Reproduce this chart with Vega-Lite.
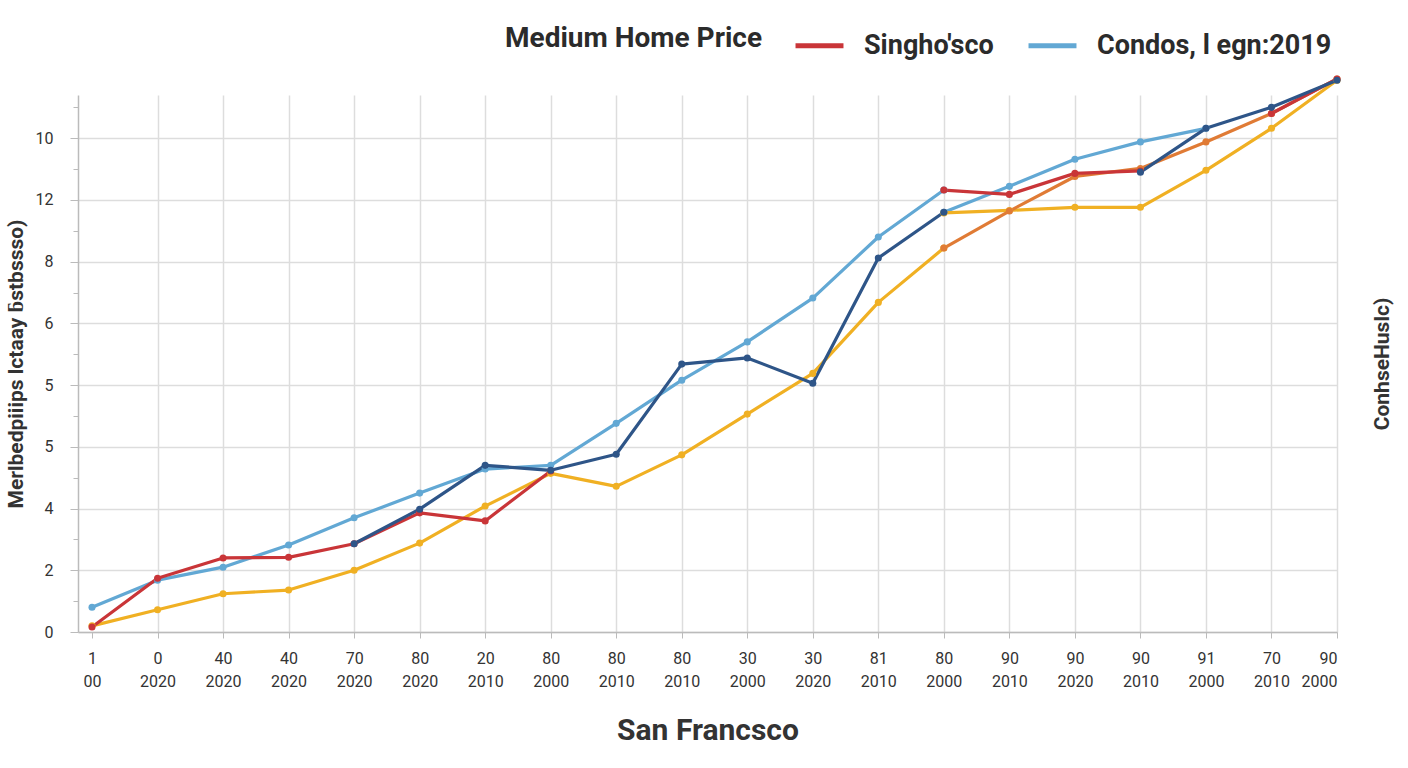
{
  "$schema": "https://vega.github.io/schema/vega-lite/v6.json",
  "width": 1259,
  "height": 537,
  "autosize": "none",
  "padding": {"left": 78, "top": 95, "right": 71, "bottom": 136},
  "background": "white",
  "config": {
    "font": "Roboto",
    "view": {"stroke": null},
    "axis": {
      "labelFont": "Roboto",
      "labelFontSize": 16,
      "labelColor": "#333333",
      "titleFont": "Roboto",
      "titleColor": "#333333",
      "domainColor": "#bbbbbb",
      "tickColor": "#bbbbbb",
      "gridColor": "#dddddd",
      "gridWidth": 1.5,
      "domainWidth": 1.5
    }
  },
  "data": {
    "values": [
      {"series": "Condos, l egn:2019", "seg": "a", "i": 0, "v": 0.40},
      {"series": "Condos, l egn:2019", "seg": "a", "i": 1, "v": 0.84},
      {"series": "Condos, l egn:2019", "seg": "a", "i": 2, "v": 1.05},
      {"series": "Condos, l egn:2019", "seg": "a", "i": 3, "v": 1.41},
      {"series": "Condos, l egn:2019", "seg": "a", "i": 4, "v": 1.85},
      {"series": "Condos, l egn:2019", "seg": "a", "i": 5, "v": 2.25},
      {"series": "Condos, l egn:2019", "seg": "a", "i": 6, "v": 2.64},
      {"series": "Condos, l egn:2019", "seg": "a", "i": 7, "v": 2.70},
      {"series": "Condos, l egn:2019", "seg": "a", "i": 8, "v": 3.38},
      {"series": "Condos, l egn:2019", "seg": "a", "i": 9, "v": 4.08},
      {"series": "Condos, l egn:2019", "seg": "a", "i": 10, "v": 4.70},
      {"series": "Condos, l egn:2019", "seg": "a", "i": 11, "v": 5.41},
      {"series": "Condos, l egn:2019", "seg": "a", "i": 12, "v": 6.40},
      {"series": "Condos, l egn:2019", "seg": "a", "i": 13, "v": 7.16},
      {"series": "Condos, l egn:2019", "seg": "b", "i": 13, "v": 6.80},
      {"series": "Condos, l egn:2019", "seg": "b", "i": 14, "v": 7.22},
      {"series": "Condos, l egn:2019", "seg": "b", "i": 15, "v": 7.66},
      {"series": "Condos, l egn:2019", "seg": "b", "i": 16, "v": 7.94},
      {"series": "Condos, l egn:2019", "seg": "b", "i": 17, "v": 8.16},

      {"series": "Townhomes", "seg": "a", "i": 0, "v": 0.10},
      {"series": "Townhomes", "seg": "a", "i": 1, "v": 0.36},
      {"series": "Townhomes", "seg": "a", "i": 2, "v": 0.62},
      {"series": "Townhomes", "seg": "a", "i": 3, "v": 0.68},
      {"series": "Townhomes", "seg": "a", "i": 4, "v": 1.00},
      {"series": "Townhomes", "seg": "a", "i": 5, "v": 1.44},
      {"series": "Townhomes", "seg": "a", "i": 6, "v": 2.04},
      {"series": "Townhomes", "seg": "a", "i": 7, "v": 2.57},
      {"series": "Townhomes", "seg": "a", "i": 8, "v": 2.36},
      {"series": "Townhomes", "seg": "a", "i": 9, "v": 2.87},
      {"series": "Townhomes", "seg": "a", "i": 10, "v": 3.53},
      {"series": "Townhomes", "seg": "a", "i": 11, "v": 4.19},
      {"series": "Townhomes", "seg": "a", "i": 12, "v": 5.34},
      {"series": "Townhomes", "seg": "a", "i": 13, "v": 6.22},
      {"series": "Townhomes", "seg": "b", "i": 13, "v": 6.79},
      {"series": "Townhomes", "seg": "b", "i": 14, "v": 6.83},
      {"series": "Townhomes", "seg": "b", "i": 15, "v": 6.88},
      {"series": "Townhomes", "seg": "b", "i": 16, "v": 6.88},
      {"series": "Townhomes", "seg": "b", "i": 17, "v": 7.48},
      {"series": "Townhomes", "seg": "b", "i": 18, "v": 8.16},
      {"series": "Townhomes", "seg": "b", "i": 19, "v": 8.94},

      {"series": "Multi-unit", "seg": "a", "i": 13, "v": 6.22},
      {"series": "Multi-unit", "seg": "a", "i": 14, "v": 6.82},
      {"series": "Multi-unit", "seg": "a", "i": 15, "v": 7.38},
      {"series": "Multi-unit", "seg": "a", "i": 16, "v": 7.51},
      {"series": "Multi-unit", "seg": "a", "i": 17, "v": 7.94},
      {"series": "Multi-unit", "seg": "a", "i": 18, "v": 8.40},
      {"series": "Multi-unit", "seg": "a", "i": 19, "v": 8.96},

      {"series": "Singho'sco", "seg": "a", "i": 0, "v": 0.08},
      {"series": "Singho'sco", "seg": "a", "i": 1, "v": 0.87},
      {"series": "Singho'sco", "seg": "a", "i": 2, "v": 1.20},
      {"series": "Singho'sco", "seg": "a", "i": 3, "v": 1.21},
      {"series": "Singho'sco", "seg": "a", "i": 4, "v": 1.43},
      {"series": "Singho'sco", "seg": "a", "i": 5, "v": 1.93},
      {"series": "Singho'sco", "seg": "a", "i": 6, "v": 1.80},
      {"series": "Singho'sco", "seg": "a", "i": 7, "v": 2.61},
      {"series": "Singho'sco", "seg": "b", "i": 13, "v": 7.16},
      {"series": "Singho'sco", "seg": "b", "i": 14, "v": 7.09},
      {"series": "Singho'sco", "seg": "b", "i": 15, "v": 7.43},
      {"series": "Singho'sco", "seg": "b", "i": 16, "v": 7.47},
      {"series": "Singho'sco", "seg": "c", "i": 18, "v": 8.40},
      {"series": "Singho'sco", "seg": "c", "i": 19, "v": 8.96},

      {"series": "Median", "seg": "a", "i": 4, "v": 1.43},
      {"series": "Median", "seg": "a", "i": 5, "v": 1.99},
      {"series": "Median", "seg": "a", "i": 6, "v": 2.70},
      {"series": "Median", "seg": "a", "i": 7, "v": 2.62},
      {"series": "Median", "seg": "a", "i": 8, "v": 2.88},
      {"series": "Median", "seg": "a", "i": 9, "v": 4.34},
      {"series": "Median", "seg": "a", "i": 10, "v": 4.44},
      {"series": "Median", "seg": "a", "i": 11, "v": 4.03},
      {"series": "Median", "seg": "a", "i": 12, "v": 6.06},
      {"series": "Median", "seg": "a", "i": 13, "v": 6.80},
      {"series": "Median", "seg": "b", "i": 16, "v": 7.45},
      {"series": "Median", "seg": "b", "i": 17, "v": 8.16},
      {"series": "Median", "seg": "b", "i": 18, "v": 8.50},
      {"series": "Median", "seg": "b", "i": 19, "v": 8.94}
    ]
  },
  "layer": [
    {
      "mark": {"type": "line", "strokeWidth": 3.2, "strokeCap": "round", "strokeJoin": "round"},
      "encoding": {
        "x": {
          "field": "i",
          "type": "quantitative",
          "scale": {"domain": [-0.214, 19], "nice": false, "zero": false},
          "axis": {
            "values": [0, 1, 2, 3, 4, 5, 6, 7, 8, 9, 10, 11, 12, 13, 14, 15, 16, 17, 18, 19],
            "labelExpr": "[['1','00'],['0','2020'],['40','2020'],['40','2020'],['70','2020'],['80','2020'],['20','2010'],['80','2000'],['80','2010'],['80','2010'],['30','2000'],['30','2020'],['81','2010'],['80','2000'],['90','2010'],['90','2020'],['90','2010'],['91','2000'],['70','2010'],['90','2000']][datum.value]",
            "labelLineHeight": 23,
            "labelPadding": 12,
            "labelBaseline": "top",
            "tickSize": 6,
            "grid": true,
            "gridOpacity": {"condition": {"test": "datum.value === 0", "value": 0}, "value": 1},
            "title": "San Francsco",
            "titleFontSize": 30,
            "titleFontWeight": "bold",
            "titlePadding": 26
          }
        },
        "y": {
          "field": "v",
          "type": "quantitative",
          "scale": {"domain": [0, 8.7], "nice": false, "zero": true},
          "axis": {
            "values": [0, 0.5, 1, 1.5, 2, 2.5, 3, 3.5, 4, 4.5, 5, 5.5, 6, 6.5, 7, 7.5, 8, 8.5],
            "labelExpr": "datum.value % 1 !== 0 ? '' : ['0','2','4','5','5','6','8','12','10'][datum.value]",
            "tickSize": {"condition": {"test": "datum.value % 1 !== 0", "value": 5}, "value": 8},
            "gridOpacity": {"condition": {"test": "datum.value % 1 !== 0", "value": 0}, "value": 1},
            "labelPadding": 17,
            "title": "Merlbedpiiips lctaay ƃstbssso)",
            "titleFontSize": 21,
            "titleFontWeight": "bold",
            "titlePadding": 9
          }
        },
        "color": {
          "field": "series",
          "type": "nominal",
          "scale": {
            "domain": ["Singho'sco", "Condos, l egn:2019", "Townhomes", "Multi-unit", "Median"],
            "range": ["#c93538", "#62a8d4", "#f0b023", "#e07b35", "#2e5588"]
          },
          "legend": {
            "values": ["Singho'sco", "Condos, l egn:2019"],
            "title": "Medium Home Price",
            "orient": "none",
            "legendX": 427,
            "legendY": -76,
            "direction": "horizontal",
            "titleOrient": "left",
            "titleFontSize": 28,
            "titleFontWeight": "bold",
            "titleColor": "#2b2b2b",
            "titlePadding": 30,
            "titleLimit": 0,
            "labelFontSize": 27,
            "labelFontWeight": "bold",
            "labelColor": "#2b2b2b",
            "labelOffset": 18,
            "labelLimit": 0,
            "symbolType": "stroke",
            "symbolSize": 2300,
            "symbolStrokeWidth": 5,
            "columnPadding": 24,
            "symbolOffset": 0
          }
        },
        "detail": {"field": "seg"}
      }
    },
    {
      "mark": {"type": "point", "filled": true, "opacity": 1, "size": 50},
      "encoding": {
        "x": {"field": "i", "type": "quantitative"},
        "y": {"field": "v", "type": "quantitative", "axis": null},
        "color": {"field": "series", "type": "nominal"}
      }
    },
    {
      "mark": {"type": "point", "opacity": 0},
      "encoding": {
        "x": {"field": "i", "type": "quantitative"},
        "y": {
          "field": "v",
          "type": "quantitative",
          "axis": {
            "orient": "right",
            "labels": false,
            "ticks": false,
            "domain": false,
            "grid": false,
            "title": "ConhseHuslc)",
            "titleAngle": -90,
            "titleFontSize": 21,
            "titleFontWeight": "bold",
            "titlePadding": 55
          }
        }
      }
    }
  ],
  "resolve": {"axis": {"y": "independent"}}
}
